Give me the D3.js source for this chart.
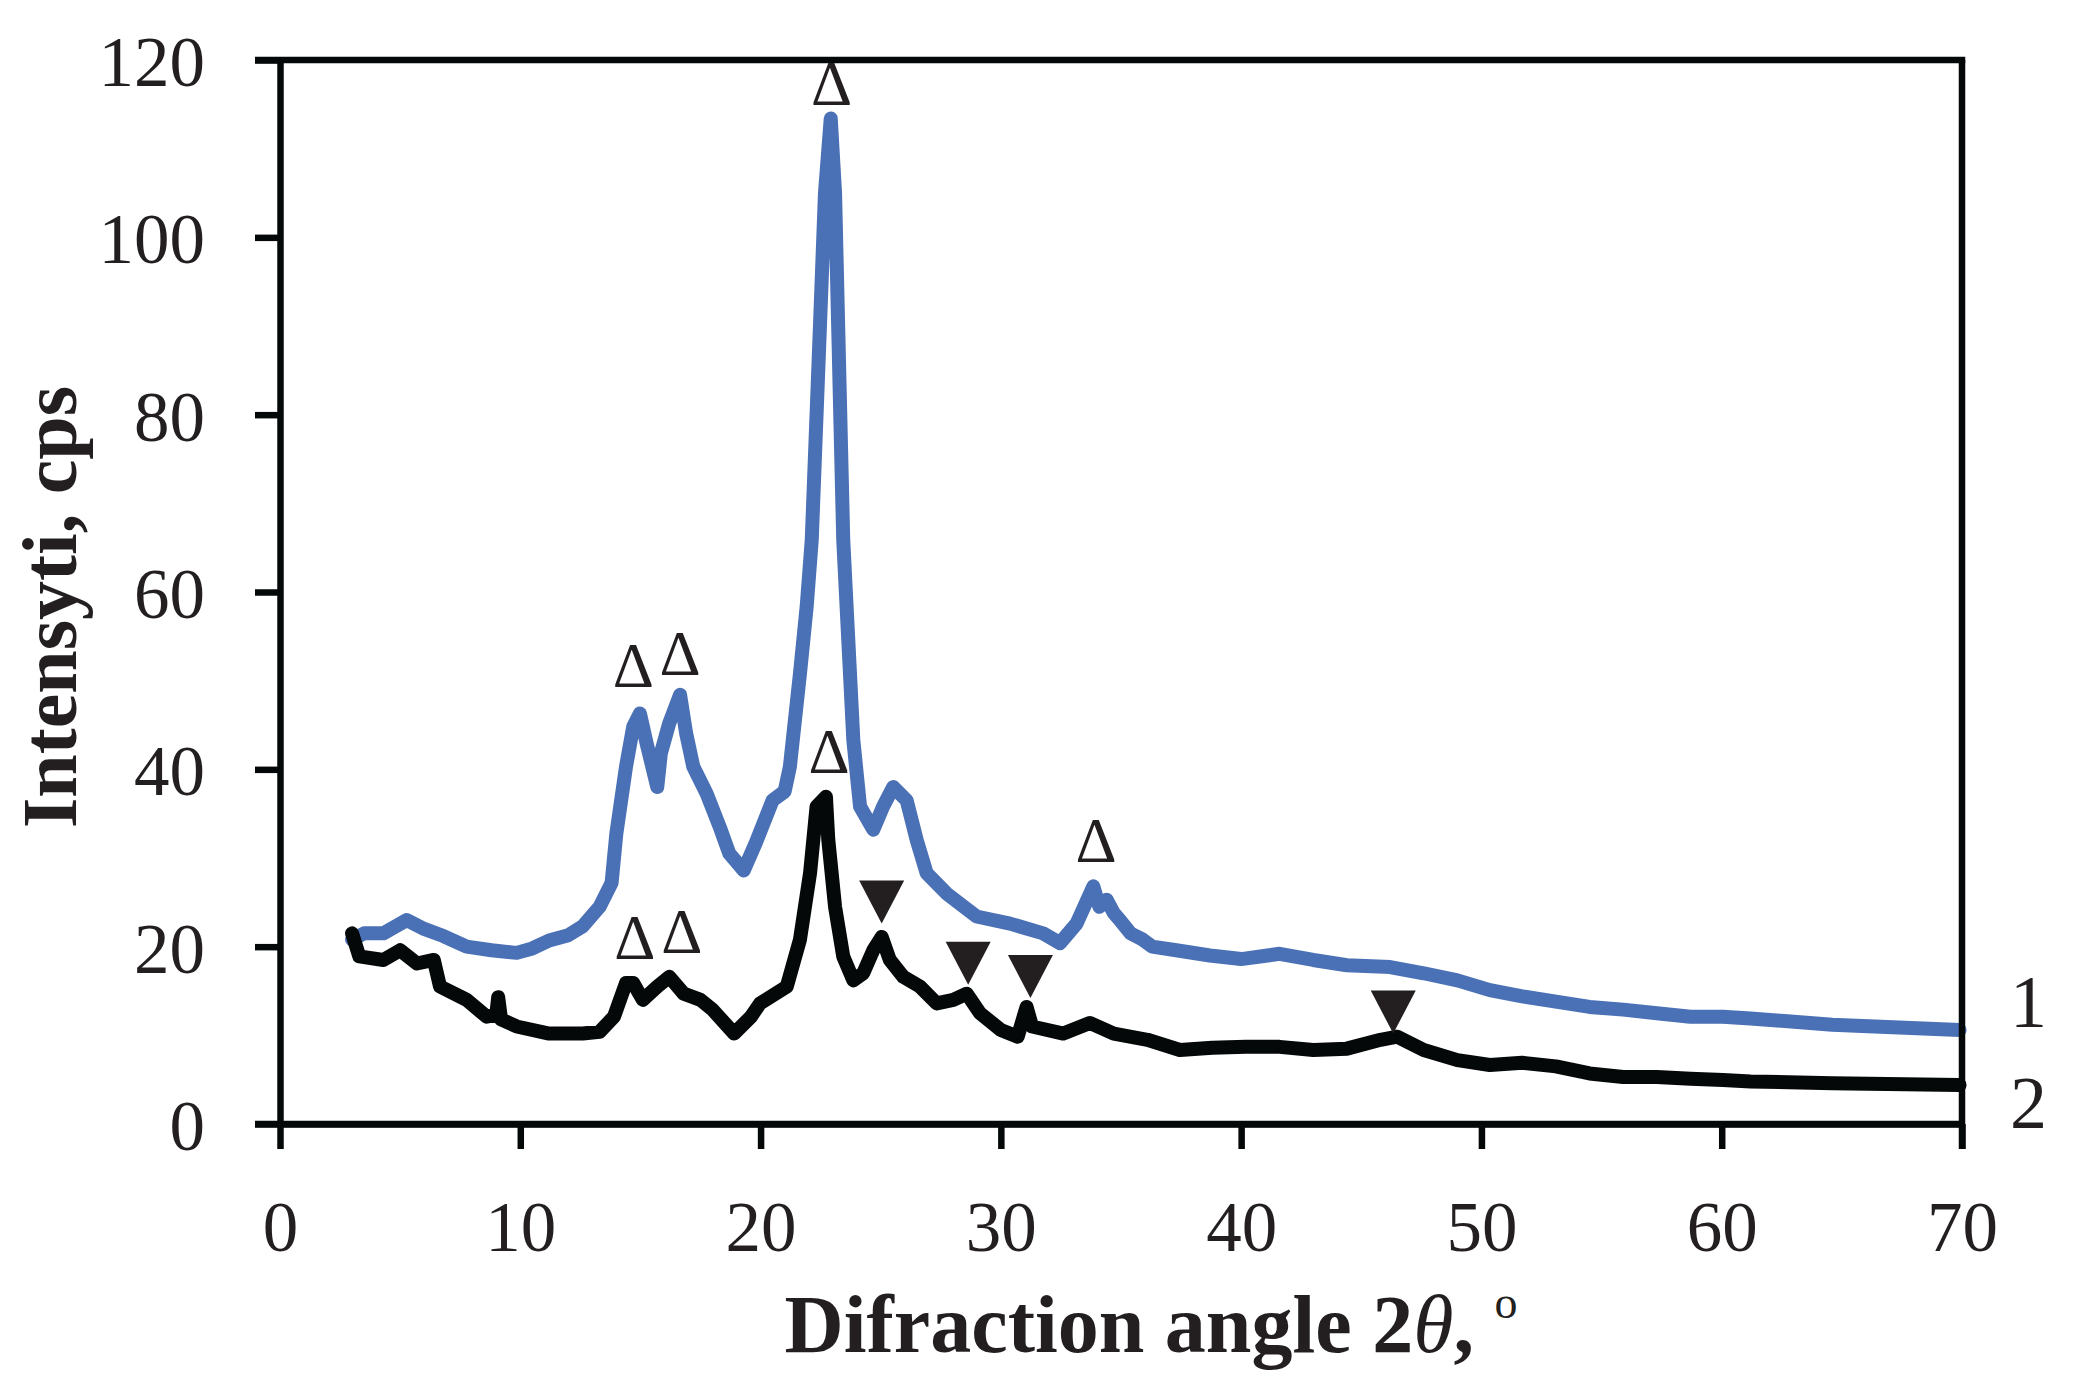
<!DOCTYPE html>
<html>
<head>
<meta charset="utf-8">
<script src="https://cdn.jsdelivr.net/npm/d3@7"></script>
<style>
    html, body { margin: 0; padding: 0; background: #ffffff; }
    svg { display: block; }
    .tick-label { font-family: 'Liberation Serif', 'Times New Roman', serif; font-size: 71px; fill: #231f20; }
    .axis-title { font-family: 'Liberation Serif', 'Times New Roman', serif; font-size: 82px; font-weight: bold; fill: #231f20; }
    .y-title { font-size: 78px; }
    .curve-label { font-family: 'Liberation Serif', 'Times New Roman', serif; font-size: 74px; fill: #231f20; }
    .delta { font-family: 'Liberation Serif', 'Times New Roman', serif; font-size: 64px; fill: #231f20; }
</style>
</head>
<body>
<svg id="xrd" width="2094" height="1384"></svg>
<script>
'use strict';

// curve 1 (blue): [2theta, cps]
var series1 = [
    [3.0, 20.8], [3.5, 21.5], [4.3, 21.5], [5.27, 23.0], [6.0, 22.0], [6.8, 21.2],
    [7.77, 20.0], [8.8, 19.6], [9.85, 19.3], [10.5, 19.8], [11.2, 20.7], [12.0, 21.3],
    [12.6, 22.3], [13.3, 24.5], [13.8, 27.2], [14.0, 32.8], [14.4, 40.3], [14.7, 44.8],
    [14.98, 46.3], [15.26, 42.9], [15.7, 38.0], [15.85, 41.8], [16.2, 45.2], [16.65, 48.4],
    [16.9, 44.1], [17.2, 40.3], [17.75, 37.3], [18.3, 33.5], [18.7, 30.5], [19.3, 28.6],
    [19.8, 31.7], [20.5, 36.5], [21.0, 37.5], [21.22, 40.3], [21.64, 50.8], [21.92, 58.4],
    [22.13, 65.9], [22.47, 89.9], [22.68, 105.0], [22.92, 113.4], [23.1, 105.0], [23.23, 89.9],
    [23.44, 65.9], [23.65, 54.6], [23.86, 43.3], [24.14, 35.8], [24.69, 33.2], [25.1, 35.8],
    [25.52, 38.0], [26.08, 36.5], [26.5, 32.0], [26.91, 28.3], [27.74, 26.0], [28.99, 23.4],
    [30.38, 22.6], [31.76, 21.5], [32.46, 20.4], [33.15, 22.6], [33.85, 26.8], [34.1, 24.5],
    [34.4, 25.3], [34.7, 23.8], [34.95, 23.0], [35.4, 21.5], [35.9, 20.8], [36.3, 20.0],
    [37.3, 19.6], [38.7, 19.0], [40.0, 18.6], [41.6, 19.2], [43.0, 18.5], [44.4, 17.9],
    [46.2, 17.7], [47.6, 17.0], [49.0, 16.2], [50.35, 15.1], [51.7, 14.4], [53.1, 13.8],
    [54.5, 13.2], [55.9, 12.9], [57.3, 12.5], [58.7, 12.1], [60.05, 12.1], [61.2, 11.9],
    [64.6, 11.2], [69.9, 10.6]
];

// curve 2 (black): [2theta, cps]
var series2 = [
    [3.0, 21.5], [3.3, 18.9], [4.3, 18.5], [5.0, 19.6], [5.7, 18.1], [6.4, 18.5],
    [6.66, 15.5], [7.77, 14.0], [8.6, 12.1], [9.0, 12.3], [9.08, 14.3], [9.2, 11.8],
    [9.85, 11.0], [11.2, 10.2], [12.6, 10.2], [13.3, 10.4], [13.9, 12.1], [14.4, 15.9],
    [14.7, 15.9], [15.1, 14.0], [15.7, 15.5], [16.2, 16.6], [16.8, 14.7], [17.5, 14.0],
    [18.0, 12.9], [18.9, 10.2], [19.6, 12.1], [19.98, 13.6], [21.09, 15.5], [21.64, 20.8],
    [22.06, 28.3], [22.33, 35.8], [22.72, 36.9], [22.82, 32.0], [23.1, 24.5], [23.44, 18.9],
    [23.86, 16.2], [24.27, 17.0], [24.69, 19.6], [25.04, 21.1], [25.38, 18.5], [25.94, 16.6],
    [26.63, 15.5], [27.33, 13.6], [28.02, 14.0], [28.58, 14.7], [29.13, 12.5], [30.0, 10.6],
    [30.7, 9.85], [31.07, 13.2], [31.3, 11.0], [32.6, 10.2], [33.7, 11.4], [34.7, 10.2],
    [36.1, 9.5], [37.45, 8.35], [38.8, 8.6], [40.2, 8.7], [41.6, 8.7], [43.0, 8.35],
    [44.4, 8.5], [45.8, 9.5], [46.5, 9.85], [47.6, 8.35], [49.0, 7.2], [50.35, 6.65],
    [51.7, 6.9], [53.1, 6.5], [54.5, 5.7], [55.9, 5.3], [57.3, 5.3], [58.7, 5.1],
    [60.05, 4.96], [61.2, 4.8], [64.6, 4.6], [69.9, 4.4]
];

var xTicks = [0, 10, 20, 30, 40, 50, 60, 70];
var yTicks = [0, 20, 40, 60, 80, 100, 120];

// open triangles (phase marks), placed at [2theta, cps] of their baseline
var openMarks = [
    [22.96, 114.9], [14.70, 49.3], [16.65, 50.6], [14.77, 18.6],
    [16.72, 19.3], [22.85, 39.6], [33.96, 29.6]
];

// filled triangles, placed at [2theta, cps] of their lower tip
var filledMarks = [
    [25.04, 22.6], [28.64, 15.7], [31.23, 14.2], [46.33, 10.2]
];

var curveLabels = ['1', '2'];

function draw () {
    var svg = d3.select('#xrd');

    var left = 280,
        top = 60,
        right = 1962,
        bottom = 1124,
        tickLen = 25,
        axisWidth = 6.5;

    var x = d3.scaleLinear().domain([0, 70]).range([left, right]);
    var y = d3.scaleLinear().domain([0, 120]).range([bottom, top]);

    var line = d3.line()
        .x(function (d) { return x(d[0]); })
        .y(function (d) { return y(d[1]); });

    // curves
    svg.append('path')
        .datum(series1)
        .attr('d', line)
        .attr('fill', 'none')
        .attr('stroke', '#4a70b5')
        .attr('stroke-width', 14)
        .attr('stroke-linejoin', 'round')
        .attr('stroke-linecap', 'round');

    svg.append('path')
        .datum(series2)
        .attr('d', line)
        .attr('fill', 'none')
        .attr('stroke', '#050808')
        .attr('stroke-width', 14)
        .attr('stroke-linejoin', 'round')
        .attr('stroke-linecap', 'round');

    // axes
    var xAxis = d3.axisBottom(x)
        .tickValues(xTicks)
        .tickSize(tickLen)
        .tickSizeOuter(0)
        .tickPadding(52);

    var yAxis = d3.axisLeft(y)
        .tickValues(yTicks)
        .tickSize(tickLen)
        .tickSizeOuter(0)
        .tickPadding(50);

    var gx = svg.append('g')
        .attr('transform', 'translate(0,' + bottom + ')')
        .call(xAxis);

    var gy = svg.append('g')
        .attr('transform', 'translate(' + left + ',0)')
        .call(yAxis);

    [gx, gy].forEach(function (g) {
        g.select('.domain')
            .attr('stroke', '#050808')
            .attr('stroke-width', axisWidth);
        g.selectAll('.tick line')
            .attr('stroke', '#050808')
            .attr('stroke-width', axisWidth);
        g.selectAll('.tick text')
            .attr('class', 'tick-label')
            .attr('fill', null)
            .attr('font-size', null)
            .attr('font-family', null);
    });

    gx.selectAll('.tick text').attr('dy', '0.71em');
    gy.selectAll('.tick text').attr('dy', '0.36em');

    // frame: top and right lines
    svg.append('line')
        .attr('x1', left - tickLen).attr('y1', top)
        .attr('x2', right + axisWidth / 2).attr('y2', top)
        .attr('stroke', '#050808')
        .attr('stroke-width', axisWidth);

    svg.append('line')
        .attr('x1', right).attr('y1', top)
        .attr('x2', right).attr('y2', bottom + tickLen)
        .attr('stroke', '#050808')
        .attr('stroke-width', axisWidth);

    svg.append('line')
        .attr('x1', left - tickLen).attr('y1', bottom)
        .attr('x2', right).attr('y2', bottom)
        .attr('stroke', '#050808')
        .attr('stroke-width', axisWidth);

    // markers
    svg.append('g')
        .selectAll('text')
        .data(openMarks)
        .enter().append('text')
            .attr('class', 'delta')
            .attr('text-anchor', 'middle')
            .attr('x', function (d) { return x(d[0]); })
            .attr('y', function (d) { return y(d[1]); })
            .text('\u0394');

    var tw = 45, th = 43;
    svg.append('g')
        .selectAll('path')
        .data(filledMarks)
        .enter().append('path')
            .attr('fill', '#231f20')
            .attr('d', function (d) {
                var px = x(d[0]), py = y(d[1]);
                return 'M' + (px - tw / 2) + ',' + (py - th) +
                    'L' + (px + tw / 2) + ',' + (py - th) +
                    'L' + px + ',' + py + 'Z';
            });

    // curve numbers at the right end
    svg.append('g')
        .selectAll('text')
        .data(curveLabels)
        .enter().append('text')
            .attr('class', 'curve-label')
            .attr('x', 2010)
            .attr('y', function (d, i) { return i === 0 ? 1027 : 1128; })
            .text(function (d) { return d; });

    // axis titles
    var xt = svg.append('text')
        .attr('class', 'axis-title')
        .attr('text-anchor', 'middle')
        .attr('x', 1151)
        .attr('y', 1352);
    xt.append('tspan').text('Difraction angle 2');
    xt.append('tspan').attr('font-style', 'italic').attr('font-weight', 'normal').text('\u03b8');
    xt.append('tspan').text(', ');
    xt.append('tspan').attr('font-size', '46px').attr('font-weight', 'normal').attr('dy', '-34').text('o');

    svg.append('text')
        .attr('class', 'axis-title y-title')
        .attr('text-anchor', 'middle')
        .attr('transform', 'translate(76,607) rotate(-90)')
        .text('Intensyti, cps');
}

draw();
</script>
</body>
</html>
